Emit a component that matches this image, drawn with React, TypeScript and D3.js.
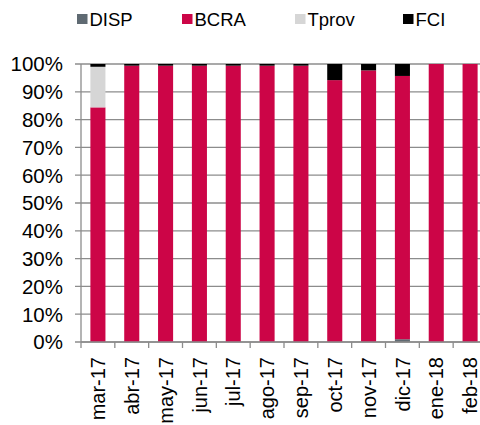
import React from "react";
import * as d3 from "d3";

const months = ["mar-17", "abr-17", "may-17", "jun-17", "jul-17", "ago-17", "sep-17", "oct-17", "nov-17", "dic-17", "ene-18", "feb-18"];
const disp = [0, 0, 0, 0, 0, 0, 0, 0, 0, 1.0, 0, 0];
const bcra = [84.4, 99.4, 99.4, 99.4, 99.4, 99.4, 99.4, 94.2, 97.7, 94.7, 100, 100];
const tprov = [14.6, 0, 0, 0, 0, 0, 0, 0, 0, 0, 0, 0];
const fci = [1.0, 0.6, 0.6, 0.6, 0.6, 0.6, 0.6, 5.8, 2.3, 4.3, 0, 0];
const yTicks = [0, 10, 20, 30, 40, 50, 60, 70, 80, 90, 100];

const seriesNames = ["DISP", "BCRA", "Tprov", "FCI"];
const colors = ["#5f6a72", "#cc0547", "#d6d6d6", "#000000"];

export default function App() {
  const width = 480;
  const height = 425;
  const left = 81;
  const right = 487;
  const top = 64;
  const bottom = 342;

  const rows = months.map((m, i) => ({ month: m, DISP: disp[i], BCRA: bcra[i], Tprov: tprov[i], FCI: fci[i] }));
  const stack = d3.stack<any>().keys(seriesNames)(rows);

  const x = d3.scaleBand().domain(months).range([left, right]).paddingInner(0.555).paddingOuter(0.2775);
  const y = d3.scaleLinear().domain([0, 100]).range([bottom, top]);
  const step = x.step();
  const font = "Arial, 'Liberation Sans', sans-serif";

  const legendX = [77, 182, 295, 403];

  return (
    <svg width={width} height={height} style={{ position: "absolute", left: 0, top: 0, background: "#fff" }}>
      {yTicks.map((t) => (
        <g key={t}>
          <line x1={left - 6} x2={right} y1={y(t)} y2={y(t)} stroke="#8c8c8c" strokeWidth={1.3} />
          <text x={63} y={y(t)} dy="0.36em" textAnchor="end" fontFamily={font} fontSize={20.5} fill="#000">
            {t}%
          </text>
        </g>
      ))}
      {stack.map((s, si) => (
        <g key={seriesNames[si]} fill={colors[si]}>
          {s.map((d, i) =>
            d[1] - d[0] > 0 ? (
              <rect key={i} x={x(months[i])!} width={x.bandwidth()} y={y(d[1])} height={y(d[0]) - y(d[1])} />
            ) : null
          )}
        </g>
      ))}
      <line x1={left} x2={left} y1={top} y2={bottom} stroke="#8c8c8c" strokeWidth={1.3} />
      <line x1={left} x2={right} y1={bottom} y2={bottom} stroke="#8c8c8c" strokeWidth={1.3} />
      {months.map((m, i) => (
        <line key={m} x1={left + i * step} x2={left + i * step} y1={bottom} y2={bottom + 6} stroke="#8c8c8c" strokeWidth={1.3} />
      ))}
      {months.map((m) => (
        <text
          key={m}
          transform={`translate(${x(m)! + x.bandwidth() / 2},${bottom + 15}) rotate(-90)`}
          textAnchor="end"
          dy="0.36em"
          fontFamily={font}
          fontSize={20}
          fill="#000"
        >
          {m}
        </text>
      ))}
      {seriesNames.map((n, i) => (
        <g key={n} transform={`translate(${legendX[i]},19)`}>
          <rect x={0} y={-5} width={10.5} height={10} fill={colors[i]} />
          <text x={12.5} dy="0.36em" fontFamily={font} fontSize={18.5} fill="#000">
            {n}
          </text>
        </g>
      ))}
    </svg>
  );
}
